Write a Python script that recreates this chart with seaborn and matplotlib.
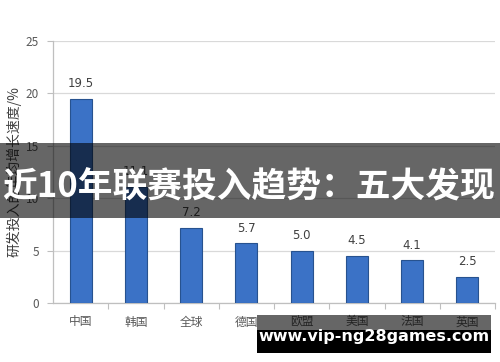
import matplotlib
matplotlib.use("Agg")
import matplotlib.pyplot as plt
import seaborn as sns
import pandas as pd
from matplotlib.patches import Rectangle
from matplotlib.ticker import FixedLocator

categories = ["中国", "韩国", "全球", "德国", "欧盟", "美国", "法国", "英国"]
values = [19.5, 11.1, 7.2, 5.7, 5.0, 4.5, 4.1, 2.5]
y_ticks = [0, 5, 10, 15, 20, 25]
y_label = "研发投入的年均增长速度/%"
banner_title = "近10年联赛投入趋势：五大发现"
url_text = "www.vip-ng28games.com"

sns.set_theme(style="white")
plt.rcParams["font.family"] = ["Noto Sans CJK SC", "DejaVu Sans"]

df = pd.DataFrame({"cat": categories, "val": values})

fig = plt.figure(figsize=(5, 3.62), dpi=100)
ax = fig.add_axes([0.106, 0.163, 0.884, 0.724])

sns.barplot(data=df, x="cat", y="val", color="#3b72c6", width=0.4,
            edgecolor="#27528f", linewidth=0.8, saturation=1, ax=ax, zorder=3)

ax.set_ylim(0, 25)
ax.set_xlim(-0.5, len(categories) - 0.5)
ax.set_yticks(y_ticks)
ax.yaxis.grid(True, color="#d9d9d9", linewidth=0.9, zorder=0)
ax.xaxis.grid(False)
ax.set_xlabel("")
ax.set_ylabel(y_label, fontsize=10, color="#404040", labelpad=3)

for s in ["top", "right"]:
    ax.spines[s].set_visible(False)
for s in ["left", "bottom"]:
    ax.spines[s].set_color("#bfbfbf")
    ax.spines[s].set_linewidth(0.9)

ax.tick_params(axis="y", labelsize=8.5, labelcolor="#595959", length=4,
               color="#bfbfbf", width=0.8, left=True, pad=6)
ax.tick_params(axis="x", which="major", labelsize=8.5, labelcolor="#595959",
               length=0, pad=9)
ax.xaxis.set_minor_locator(FixedLocator([i + 0.5 for i in range(len(categories))]))
ax.tick_params(axis="x", which="minor", length=4, color="#bfbfbf", width=0.8,
               bottom=True)

for i, v in enumerate(values):
    ax.text(i, v + 0.8, f"{v:.1f}", ha="center", va="bottom",
            fontsize=8.5, color="#404040", family="DejaVu Sans")

# Banner overlay
fig.patches.append(Rectangle((0, 1 - 218 / 362), 1, 75 / 362,
                             transform=fig.transFigure, facecolor="black",
                             alpha=0.6, edgecolor="none", zorder=10))
fig.text(0.497, 1 - 187 / 362, banner_title, ha="center", va="center",
         fontsize=25, fontweight="bold", color="white", zorder=11,
         family=["Noto Sans CJK SC", "DejaVu Sans"])

# URL box
fig.patches.append(Rectangle((257 / 500, 1 - 330 / 362), 234 / 500, 15 / 362,
                             transform=fig.transFigure, facecolor="black",
                             alpha=0.6, edgecolor="none", zorder=10))
fig.patches.append(Rectangle((257 / 500, 1 - 353 / 362), 234 / 500, 23 / 362,
                             transform=fig.transFigure, facecolor="black",
                             edgecolor="none", zorder=10))
fig.text(374 / 500, 1 - 336 / 362, url_text, ha="center", va="center",
         fontsize=11.5, fontweight="bold", color="white", zorder=11,
         family="DejaVu Sans")

fig.savefig("out.png", dpi=100)
